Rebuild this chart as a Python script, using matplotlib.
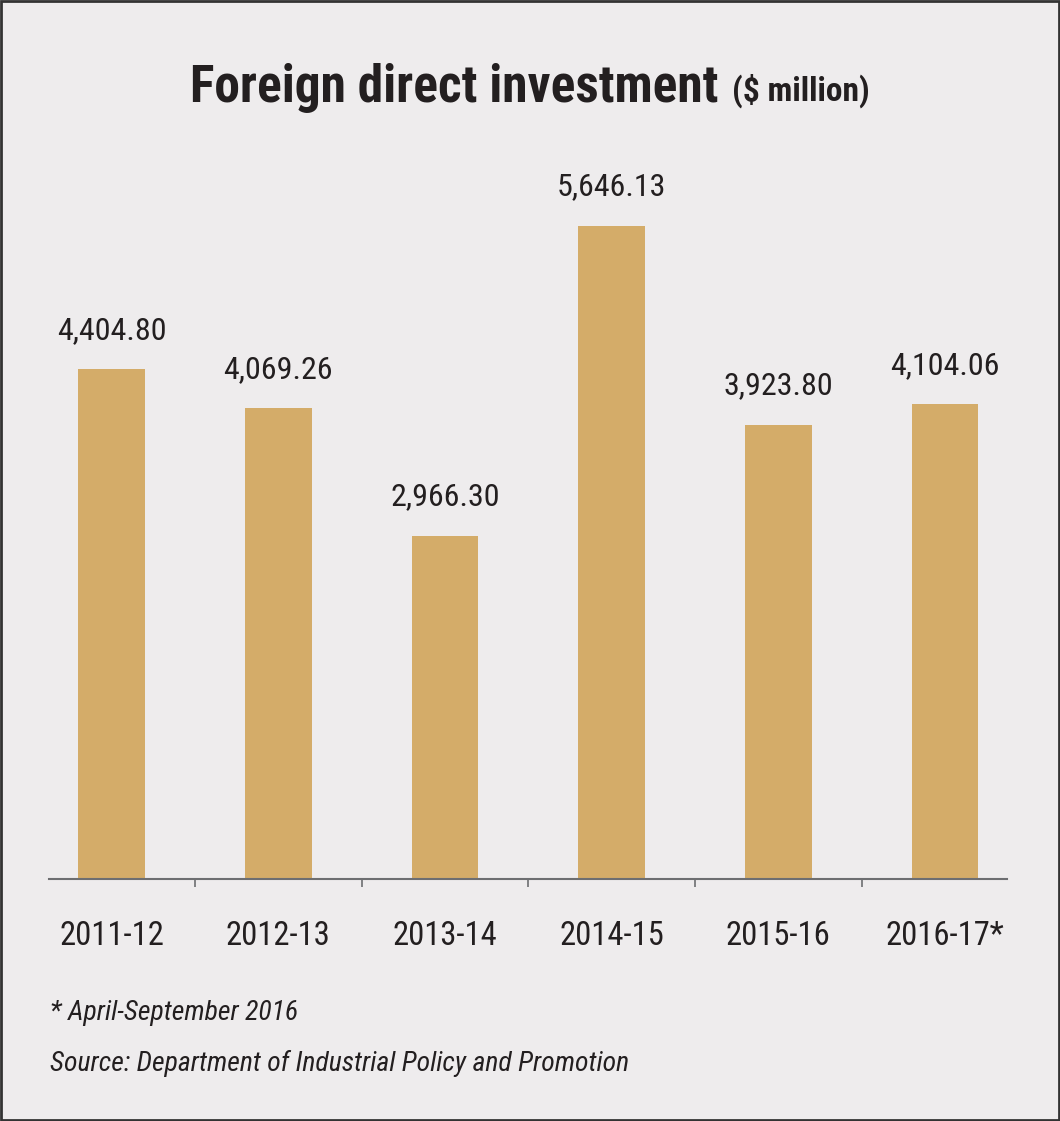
import matplotlib
matplotlib.use("Agg")
import matplotlib.pyplot as plt
from matplotlib.patches import Rectangle

years = ["2011-12", "2012-13", "2013-14", "2014-15", "2015-16", "2016-17*"]
fdi = [4404.80, 4069.26, 2966.30, 5646.13, 3923.80, 4104.06]
value_labels = ["4,404.80", "4,069.26", "2,966.30", "5,646.13", "3,923.80", "4,104.06"]

BG = "#eeeced"
BAR = "#d4ac69"
INK = "#231f20"
NARROW = ["Roboto Condensed", "Liberation Sans Narrow", "DejaVu Sans"]

fig = plt.figure(figsize=(10.6, 11.21), dpi=100, facecolor=BG)
ax = fig.add_axes([49 / 1060, 242 / 1121, 958 / 1060, 752 / 1121])
ax.set_facecolor(BG)

x = list(range(len(years)))
ax.bar(x, fdi, width=0.40, color=BAR, zorder=2)
ax.set_xlim(-0.375, 5.373)
ax.set_ylim(0, 6500)

for xi, v, lab in zip(x, fdi, value_labels):
    ax.annotate(lab, (xi, v), xytext=(0, 22), textcoords="offset points",
                ha="center", va="baseline", fontsize=23, color=INK, family=NARROW)
for xi, lab in zip(x, years):
    ax.annotate(lab, (xi, 0), xytext=(0, -47.5), textcoords="offset points",
                ha="center", va="baseline", fontsize=23.5, color=INK, family=NARROW,
                annotation_clip=False)

for s in ("top", "right", "left"):
    ax.spines[s].set_visible(False)
ax.spines["bottom"].set_color("#6d6e71")
ax.spines["bottom"].set_linewidth(1.5)
ax.set_yticks([])
ax.set_xticks([i + 0.5 for i in range(len(years) - 1)])
ax.set_xticklabels([])
ax.tick_params(axis="x", length=6, width=1.2, color="#6d6e71", direction="out")

# title in two parts, centred together
r = fig.canvas.get_renderer()
t1 = fig.text(0, 1 - 102 / 1121, "Foreign direct investment", fontsize=37,
              fontweight="heavy", color=INK, family=NARROW, va="baseline", ha="left")
t2 = fig.text(0, 1 - 101 / 1121, "($ million)", fontsize=24,
              fontweight="heavy", color=INK, family=NARROW, va="baseline", ha="left")
w1 = t1.get_window_extent(r).width
w2 = t2.get_window_extent(r).width
gap = 14
start = (1060 - (w1 + gap + w2)) / 2
t1.set_x(start / 1060)
t2.set_x((start + w1 + gap) / 1060)

fig.text(50 / 1060, 1 - 1020 / 1121, "* April-September 2016", fontsize=20,
         style="italic", color=INK, family=NARROW, va="baseline")
fig.text(50 / 1060, 1 - 1071 / 1121, "Source: Department of Industrial Policy and Promotion",
         fontsize=20, style="italic", color=INK, family=NARROW, va="baseline")

fig.patches.append(Rectangle((0.001, 0.001), 0.998, 0.998, transform=fig.transFigure,
                             fill=False, edgecolor="#333333", linewidth=2))

fig.savefig("out.png", dpi=100, facecolor=BG)
